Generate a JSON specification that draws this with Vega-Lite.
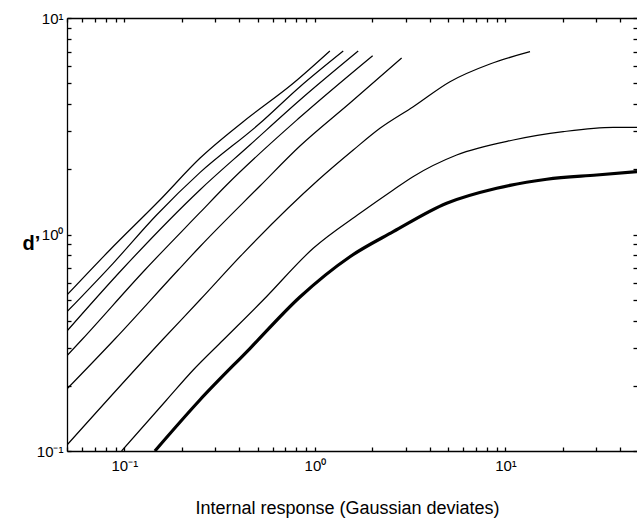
{
  "$schema": "https://vega.github.io/schema/vega-lite/v6.json",
  "width": 570,
  "height": 433,
  "autosize": {"type": "none"},
  "padding": {"left": 67, "top": 18, "right": 0, "bottom": 68},
  "background": "white",
  "config": {
    "view": {"stroke": null},
    "font": "Liberation Sans",
    "axis": {
      "grid": false,
      "domainColor": "black",
      "domainWidth": 1.3,
      "tickColor": "black",
      "tickWidth": 1.3,
      "tickSize": -4,
      "labelColor": "black",
      "titleColor": "black",
      "labelFontSize": 15,
      "labelFlush": false,
      "labelOverlap": false
    }
  },
  "datasets": {
    "curves": [
      {"curve": "c1", "x": 0.05, "dprime": 0.5255},
      {"curve": "c1", "x": 0.0839, "dprime": 0.848},
      {"curve": "c1", "x": 0.1536, "dprime": 1.443},
      {"curve": "c1", "x": 0.249, "dprime": 2.249},
      {"curve": "c1", "x": 0.4203, "dprime": 3.319},
      {"curve": "c1", "x": 0.7694, "dprime": 4.994},
      {"curve": "c1", "x": 1.198, "dprime": 7.04},
      {"curve": "c2", "x": 0.05, "dprime": 0.4398},
      {"curve": "c2", "x": 0.0873, "dprime": 0.7362},
      {"curve": "c2", "x": 0.1476, "dprime": 1.23},
      {"curve": "c2", "x": 0.249, "dprime": 1.93},
      {"curve": "c2", "x": 0.5145, "dprime": 3.263},
      {"curve": "c2", "x": 0.8344, "dprime": 4.816},
      {"curve": "c2", "x": 1.408, "dprime": 7.04},
      {"curve": "c3", "x": 0.05, "dprime": 0.3583},
      {"curve": "c3", "x": 0.0967, "dprime": 0.6855},
      {"curve": "c3", "x": 0.249, "dprime": 1.606},
      {"curve": "c3", "x": 0.4557, "dprime": 2.591},
      {"curve": "c3", "x": 0.8344, "dprime": 4.18},
      {"curve": "c3", "x": 1.688, "dprime": 7.04},
      {"curve": "c4", "x": 0.05, "dprime": 0.2755},
      {"curve": "c4", "x": 0.0603, "dprime": 0.3291},
      {"curve": "c4", "x": 0.1281, "dprime": 0.6855},
      {"curve": "c4", "x": 0.249, "dprime": 1.261},
      {"curve": "c4", "x": 0.344, "dprime": 1.693},
      {"curve": "c4", "x": 0.8344, "dprime": 3.478},
      {"curve": "c4", "x": 2.009, "dprime": 6.698},
      {"curve": "c5", "x": 0.05, "dprime": 0.1934},
      {"curve": "c5", "x": 0.0892, "dprime": 0.3291},
      {"curve": "c5", "x": 0.1916, "dprime": 0.6855},
      {"curve": "c5", "x": 0.249, "dprime": 0.878},
      {"curve": "c5", "x": 0.5145, "dprime": 1.675},
      {"curve": "c5", "x": 0.8344, "dprime": 2.563},
      {"curve": "c5", "x": 1.527, "dprime": 4.05},
      {"curve": "c5", "x": 2.851, "dprime": 6.535},
      {"curve": "c6", "x": 0.05, "dprime": 0.1066},
      {"curve": "c6", "x": 0.1599, "dprime": 0.3291},
      {"curve": "c6", "x": 0.249, "dprime": 0.4982},
      {"curve": "c6", "x": 0.4203, "dprime": 0.8188},
      {"curve": "c6", "x": 1.0406, "dprime": 1.785},
      {"curve": "c6", "x": 1.589, "dprime": 2.456},
      {"curve": "c6", "x": 2.194, "dprime": 3.094},
      {"curve": "c6", "x": 3.281, "dprime": 3.893},
      {"curve": "c6", "x": 5.113, "dprime": 5.079},
      {"curve": "c6", "x": 8.291, "dprime": 6.132},
      {"curve": "c6", "x": 13.45, "dprime": 6.988},
      {"curve": "c7", "x": 0.0967, "dprime": 0.1},
      {"curve": "c7", "x": 0.1665, "dprime": 0.172},
      {"curve": "c7", "x": 0.2297, "dprime": 0.2366},
      {"curve": "c7", "x": 0.3301, "dprime": 0.3256},
      {"curve": "c7", "x": 0.5355, "dprime": 0.4982},
      {"curve": "c7", "x": 0.9797, "dprime": 0.8635},
      {"curve": "c7", "x": 1.723, "dprime": 1.253},
      {"curve": "c7", "x": 2.576, "dprime": 1.606},
      {"curve": "c7", "x": 3.269, "dprime": 1.849},
      {"curve": "c7", "x": 5.543, "dprime": 2.329},
      {"curve": "c7", "x": 10.99, "dprime": 2.732},
      {"curve": "c7", "x": 20.11, "dprime": 2.985},
      {"curve": "c7", "x": 36.8, "dprime": 3.128},
      {"curve": "c7", "x": 49.0, "dprime": 3.128},
      {"curve": "c8", "x": 0.1446, "dprime": 0.1},
      {"curve": "c8", "x": 0.249, "dprime": 0.172},
      {"curve": "c8", "x": 0.4557, "dprime": 0.2974},
      {"curve": "c8", "x": 0.8344, "dprime": 0.5145},
      {"curve": "c8", "x": 1.527, "dprime": 0.7897},
      {"curve": "c8", "x": 2.576, "dprime": 1.03},
      {"curve": "c8", "x": 4.912, "dprime": 1.394},
      {"curve": "c8", "x": 8.99, "dprime": 1.635},
      {"curve": "c8", "x": 16.46, "dprime": 1.799},
      {"curve": "c8", "x": 30.11, "dprime": 1.883},
      {"curve": "c8", "x": 49.0, "dprime": 1.95}
    ]
  },
  "data": {"name": "curves"},
  "layer": [
    {
      "transform": [{"filter": "datum.curve != 'c8'"}],
      "mark": {"type": "line", "color": "black", "strokeWidth": 1.2, "clip": true, "interpolate": "monotone"},
      "encoding": {
        "x": {
          "field": "x", "type": "quantitative",
          "scale": {"type": "log", "domain": [0.05, 49], "nice": false},
          "axis": {
            "orient": "bottom",
            "values": [0.05,0.06,0.07,0.08,0.09,0.1,0.2,0.3,0.4,0.5,0.6,0.7,0.8,0.9,1,2,3,4,5,6,7,8,9,10,20,30,40],
            "labelExpr": "datum.value == 0.1 ? '10⁻¹' : datum.value == 1 ? '10⁰' : datum.value == 10 ? '10¹' : ''",
            "labelPadding": 11,
            "title": "Internal response (Gaussian deviates)",
            "titleFontSize": 18,
            "titleFontWeight": "normal",
            "titleBaseline": "alphabetic",
            "titleY": 62,
            "titleX": 280
          }
        },
        "y": {
          "field": "dprime", "type": "quantitative",
          "scale": {"type": "log", "domain": [0.1, 10], "nice": false},
          "axis": {
            "orient": "left",
            "values": [0.1,0.2,0.3,0.4,0.5,0.6,0.7,0.8,0.9,1,2,3,4,5,6,7,8,9,10],
            "labelExpr": "datum.value == 0.1 ? '10⁻¹' : datum.value == 1 ? '10⁰' : datum.value == 10 ? '10¹' : ''",
            "labelPadding": 8,
            "title": "d’",
            "titleAngle": 0,
            "titleFontSize": 20,
            "titleFontWeight": "bold",
            "titleAlign": "center",
            "titleBaseline": "middle",
            "titleX": -36,
            "titleY": 225
          }
        },
        "detail": {"field": "curve"}
      }
    },
    {
      "transform": [{"filter": "datum.curve == 'c8'"}],
      "mark": {"type": "line", "color": "black", "strokeWidth": 3.2, "clip": true, "interpolate": "monotone"},
      "encoding": {
        "x": {
          "field": "x", "type": "quantitative",
          "scale": {"type": "log", "domain": [0.05, 49], "nice": false},
          "axis": {
            "orient": "top",
            "values": [0.05,0.06,0.07,0.08,0.09,0.1,0.2,0.3,0.4,0.5,0.6,0.7,0.8,0.9,1,2,3,4,5,6,7,8,9,10,20,30,40],
            "labels": false,
            "title": null
          }
        },
        "y": {
          "field": "dprime", "type": "quantitative",
          "scale": {"type": "log", "domain": [0.1, 10], "nice": false},
          "axis": {
            "orient": "right",
            "values": [0.1,0.2,0.3,0.4,0.5,0.6,0.7,0.8,0.9,1,2,3,4,5,6,7,8,9,10],
            "labels": false,
            "domain": false,
            "title": null
          }
        },
        "detail": {"field": "curve"}
      }
    }
  ],
  "resolve": {"axis": {"x": "independent", "y": "independent"}}
}
